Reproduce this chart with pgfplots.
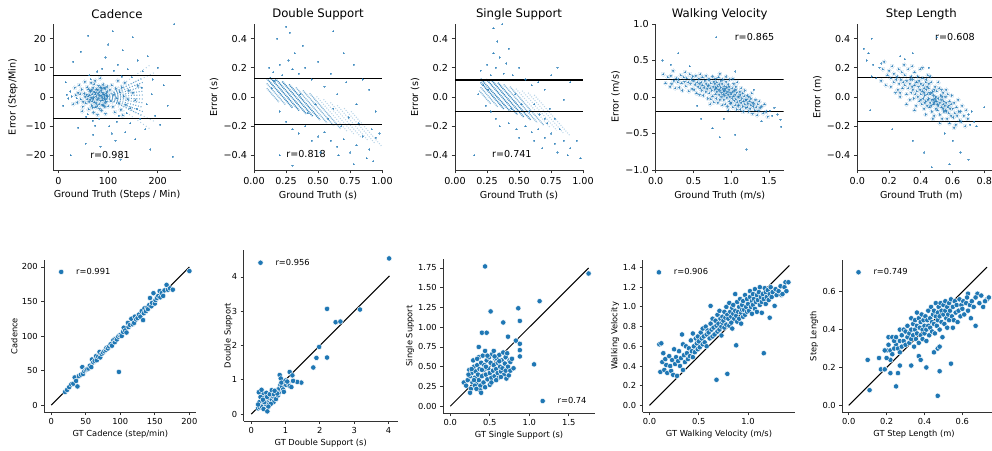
\documentclass[border=0pt]{standalone}
\usepackage{pgfplots}
\usepackage{pgfplotstable}
\pgfplotsset{compat=1.18}
\usepackage{fontspec}
\setmainfont{DejaVu Sans}
\definecolor{tabblue}{HTML}{1F77B4}
\newcommand\fT{\fontsize{11.7}{13}\selectfont}
\newcommand\fA{\fontsize{9.6}{11}\selectfont}
\newcommand\fB{\fontsize{8.3}{9.5}\selectfont}
\pgfplotsset{
  base/.style={scale only axis, axis x line*=bottom, axis y line*=left,
    axis line style={line width=0.8pt, black!80},
    tick style={line width=0.8pt, black!80},
    tick align=outside,
    /pgf/number format/assume math mode=true,
    anchor=south west},
  toprow/.style={base, width=128pt, height=146pt, major tick length=3.5pt,
    tick label style={font=\fA},
    every axis title/.style={at={([yshift=10pt]axis description cs:0.5,1)}, anchor=center, font=\fT},
    every axis x label/.style={at={([yshift=-25pt]axis description cs:0.5,0)}, anchor=center, font=\fA},
    every axis y label/.style={at={([xshift=-40pt]axis description cs:0,0.5)}, anchor=center, rotate=90, font=\fA}},
  cloud/.style={only marks, color=tabblue, mark=*, mark size=0.6pt, mark options={line width=0pt, fill=tabblue, draw=tabblue, opacity=0.4}},
  halo/.style={only marks, color=tabblue, mark=*, mark size=2pt, mark options={line width=0pt, fill=tabblue, draw=none, opacity=0.07}},
  band/.style={black, line width=1.2pt},
  stripe/.style={tabblue, line width=1.3pt, dash pattern=on 1pt off 0.8pt, unbounded coords=jump},
  botrow/.style={base, major tick length=3pt,
    tick label style={font=\fB},
    every axis x label/.style={at={([yshift=-22pt]axis description cs:0.5,0)}, anchor=center, font=\fB},
    every axis y label/.style={at={([xshift=-30pt]axis description cs:0,0.5)}, anchor=center, rotate=90, font=\fB},
    legend style={draw=none, fill=none, inner sep=0pt, font=\fB},
    legend image code/.code={\path[draw=none,fill=none] (0pt,0pt) (18pt,0pt); \draw[mark repeat=2,mark phase=2,##1] plot coordinates {(0pt,0pt)(5pt,0pt)(10pt,0pt)};}},
  scat/.style={only marks, mark=*, mark size=2.7pt, mark options={fill=tabblue, draw=white, line width=0.45pt}},
  diag/.style={black, line width=1pt, forget plot},
}
\pgfplotstableread[row sep=\\]{x y\\
52 1.2\\55 -2.1\\58 3.4\\60 0.3\\61 -4.2\\63 2.2\\64 -1.0\\66 4.8\\67 -2.9\\68 0.9\\70 -0.6\\70 3.1\\71 -5.3\\72 1.8\\73 -1.8\\74 5.6\\75 -3.5\\76 0.2\\77 2.7\\78 -0.9\\79 -6.1\\80 1.1\\81 3.9\\82 -2.4\\83 0.5\\84 6.4\\85 -1.3\\86 2.1\\87 -4.6\\88 -0.2\\89 1.5\\90 4.3\\91 -2.8\\92 0.7\\93 -0.5\\94 2.9\\95 -5.7\\96 1.3\\97 -1.6\\98 3.6\\99 0.1\\100 -3.2\\
45 -0.8\\47 2.6\\49 -3.3\\40 1.5\\42 4.1\\38 -1.9\\35 0.6\\33 3.2\\30 -2.4\\53 5.2\\48 -4.9\\
57 0.8\\62 -1.7\\65 1.9\\69 -3.6\\72 4.4\\76 -2.2\\79 2.4\\83 -4.0\\86 0.4\\89 -1.1\\92 3.1\\95 -0.9\\98 1.9\\66 -0.3\\74 0.9\\81 -0.5\\87 2.9\\93 -3.4\\60 2.7\\68 -1.5\\
54 0.1\\58 -0.8\\63 0.6\\67 2.4\\71 -0.2\\75 1.5\\78 -3.1\\82 1.6\\85 3.3\\88 -2.7\\91 1.0\\94 -1.9\\97 0.5\\50 -1.6\\44 1.0\\
104 2.4\\106 -1.5\\108 4\\110 -3.3\\112 0.8\\114 -5.2\\116 2.9\\118 -0.4\\120 5.5\\122 -2.1\\124 1.7\\126 -4.4\\128 3.4\\130 -6.3\\132 0.3\\134 4.8\\136 -2.7\\140 -0.8\\142 2.2\\145 -3.9\\150 1.4\\155 -1.1\\160 3.8\\
}\tabCadCore
\pgfplotstableread[row sep=\\]{x y\\
27 0.2\\24 1.9\\20 -0.5\\17 0.8\\37 -0.4\\56 -6.8\\62 7.5\\69 -8.2\\78 8.7\\65 6.1\\59 -5.9\\82 -7.4\\88 9.6\\74 -9.8\\
30 12\\45 15.5\\60 21\\70 -13\\85 -17\\95 13.5\\100 18\\110 22.5\\115 -15\\120 11\\125 -21.5\\130 16\\135 -12\\140 9.5\\145 -9\\150 20.5\\155 -14.5\\160 12.5\\165 -7.5\\170 8.8\\175 -11\\180 14\\185 -18\\190 6\\195 -6.5\\200 10\\205 -9.5\\212 4\\220 -3\\230 -20.5\\233 25\\25 -20\\55 -16\\40 -10.5\\15 5\\10 -3\\102 -10\\108 -12.5\\118 -8.5\\128 7\\138 -5.5\\112 9\\122 -6.5\\148 6.8\\158 -4\\168 3.2\\178 -2.5\\188 1\\
}\tabCadOut
\pgfplotstableread[row sep=\\]{x y\\
0.10 0.31\\0.13 0.19\\0.16 0.27\\0.19 0.14\\0.20 0.29\\0.21 0.18\\0.23 0.36\\0.24 0.22\\0.26 0.12\\0.27 0.26\\0.29 0.2\\
0.30 0.24\\0.31 0.13\\0.33 0.3\\0.34 0.19\\0.35 0.09\\0.37 0.27\\0.38 0.21\\0.39 0.34\\
0.40 0.15\\0.41 0.26\\0.43 0.2\\0.44 0.08\\0.45 0.31\\0.46 0.18\\0.47 0.24\\0.48 0.11\\0.49 0.28\\
0.50 0.22\\0.51 0.1\\0.52 0.17\\0.53 0.29\\0.54 0.05\\0.55 0.2\\0.56 0.14\\0.57 0.25\\0.58 0.18\\0.58 0.03\\0.59 0.31\\0.59 0.12\\
0.60 0.2\\0.61 0.09\\0.62 0.16\\0.62 0.27\\0.63 0.02\\0.64 0.13\\0.65 0.22\\0.66 0.07\\0.67 0.18\\0.67 0.29\\0.68 0.11\\0.69 -0.02\\0.69 0.15\\0.695 0.24\\
0.70 0.16\\0.71 0.05\\0.71 0.24\\0.72 0.12\\0.73 -0.03\\0.73 0.19\\0.74 0.09\\0.75 0.28\\0.75 0.01\\0.76 0.14\\0.77 0.21\\0.77 -0.07\\0.78 0.1\\0.78 0.18\\0.79 0.04\\0.79 0.25\\0.795 0.13\\0.72 -0.1\\
0.80 0.12\\0.80 -0.02\\0.81 0.2\\0.81 0.07\\0.82 0.15\\0.82 -0.08\\0.83 0.1\\0.83 0.27\\0.84 0.03\\0.84 0.17\\0.85 -0.04\\0.85 0.09\\0.86 0.22\\0.86 0.13\\0.87 0.0\\0.87 0.06\\0.88 0.18\\0.88 -0.11\\0.89 0.11\\0.89 0.24\\0.895 0.04\\0.85 0.32\\
0.90 0.08\\0.90 -0.04\\0.91 0.15\\0.91 0.02\\0.92 0.11\\0.92 -0.1\\0.93 0.05\\0.93 0.21\\0.94 -0.01\\0.94 0.13\\0.95 0.07\\0.95 -0.13\\0.96 0.17\\0.96 0.03\\0.97 -0.06\\0.97 0.1\\0.98 0.24\\0.98 0.0\\0.99 0.06\\0.99 -0.09\\0.93 0.28\\0.96 -0.18\\0.91 0.09\\0.97 0.14\\
1.00 0.04\\1.00 -0.08\\1.01 0.12\\1.01 -0.02\\1.02 0.07\\1.02 -0.14\\1.03 0.01\\1.03 0.18\\1.04 -0.05\\1.04 0.09\\1.05 -0.11\\1.05 0.03\\1.06 0.14\\1.06 -0.03\\1.07 -0.17\\1.07 0.06\\1.08 -0.07\\1.08 0.2\\1.09 0.0\\1.09 -0.12\\1.02 0.25\\1.06 0.1\\
1.10 0.0\\1.10 -0.11\\1.11 0.07\\1.11 -0.05\\1.12 -0.17\\1.12 0.03\\1.13 -0.08\\1.13 0.12\\1.14 -0.02\\1.15 -0.13\\1.15 0.05\\1.16 -0.06\\1.16 -0.2\\1.17 0.01\\1.18 -0.1\\1.18 0.09\\1.19 -0.04\\1.19 -0.15\\
1.20 -0.04\\1.21 -0.14\\1.21 0.02\\1.22 -0.09\\1.23 -0.2\\1.23 0.0\\1.24 -0.06\\1.25 -0.16\\1.26 -0.02\\1.26 -0.11\\1.27 0.05\\1.28 -0.08\\1.28 -0.23\\1.29 -0.13\\
1.30 -0.09\\1.31 -0.18\\1.32 -0.04\\1.33 -0.14\\1.34 -0.25\\1.35 -0.1\\1.36 -0.19\\1.37 -0.06\\1.38 -0.15\\
1.40 -0.13\\1.42 -0.22\\1.44 -0.1\\1.46 -0.2\\1.48 -0.27\\
}\tabWVCore
\pgfplotstableread[row sep=\\]{x y\\
1.51 -0.19\\1.54 -0.26\\1.57 -0.15\\1.61 -0.24\\1.65 -0.31\\
0.09 0.5\\0.3 0.6\\0.8 0.82\\0.75 -0.43\\0.85 -0.55\\1.05 -0.52\\1.2 -0.72\\1.66 -0.41\\0.55 -0.12\\0.45 0.42\\1.05 0.35\\0.6 -0.3\\1.4 -0.33\\0.2 0.44\\1.3 0.1\\0.9 -0.3\\
}\tabWVOut
\pgfplotstableread[row sep=\\]{x y\\
0.15 0.11\\0.16 0.19\\0.17 0.24\\0.18 0.08\\0.19 0.15\\
0.20 0.18\\0.21 0.07\\0.21 0.13\\0.22 0.21\\0.23 0.1\\0.23 0.16\\0.24 0.03\\0.245 0.12\\
0.25 0.14\\0.255 0.05\\0.26 0.19\\0.265 0.09\\0.27 0.0\\0.275 0.12\\0.28 0.17\\0.285 0.06\\0.29 0.1\\0.295 0.22\\0.27 0.03\\
0.30 0.08\\0.30 0.15\\0.31 0.02\\0.31 0.11\\0.32 0.19\\0.32 0.06\\0.33 -0.02\\0.33 0.09\\0.34 0.14\\0.34 0.03\\0.345 0.21\\0.31 -0.05\\0.335 0.12\\0.345 0.07\\
0.35 0.05\\0.35 0.12\\0.355 -0.01\\0.36 0.08\\0.36 0.17\\0.365 0.02\\0.37 0.1\\0.37 -0.06\\0.375 0.04\\0.38 0.14\\0.38 0.0\\0.385 0.07\\0.39 -0.03\\0.39 0.11\\0.395 0.05\\0.395 0.19\\0.36 -0.09\\0.375 0.1\\
0.40 0.02\\0.40 0.09\\0.405 -0.05\\0.41 0.04\\0.41 0.13\\0.415 -0.01\\0.42 0.06\\0.42 -0.08\\0.425 0.01\\0.43 0.1\\0.43 -0.03\\0.435 0.05\\0.44 -0.06\\0.44 0.02\\0.445 0.15\\0.445 -0.02\\0.41 0.2\\0.43 -0.12\\0.42 0.03\\0.4 -0.02\\0.44 0.07\\0.425 -0.04\\0.435 0.12\\0.415 0.08\\
0.45 -0.01\\0.45 0.06\\0.455 -0.07\\0.46 0.02\\0.46 -0.04\\0.465 0.1\\0.47 -0.02\\0.47 -0.1\\0.475 0.04\\0.48 -0.05\\0.48 0.01\\0.485 -0.13\\0.49 -0.03\\0.49 0.07\\0.495 -0.08\\0.495 0.0\\0.46 0.14\\0.47 0.03\\0.48 -0.02\\0.455 0.03\\0.465 -0.06\\0.485 0.05\\0.49 -0.01\\0.475 -0.15\\0.45 0.09\\0.485 -0.04\\
0.50 -0.03\\0.50 0.04\\0.505 -0.09\\0.51 -0.01\\0.51 -0.06\\0.515 0.06\\0.52 -0.04\\0.52 -0.12\\0.525 0.01\\0.53 -0.07\\0.53 -0.02\\0.535 -0.15\\0.54 -0.05\\0.54 0.03\\0.545 -0.1\\0.545 -0.03\\0.51 0.1\\0.53 0.05\\0.52 -0.18\\0.505 -0.05\\0.54 -0.08\\0.535 0.0\\
0.55 -0.06\\0.555 0.0\\0.56 -0.1\\0.56 -0.04\\0.565 -0.15\\0.57 -0.07\\0.57 0.02\\0.575 -0.11\\0.58 -0.03\\0.58 -0.18\\0.585 -0.08\\0.59 -0.05\\0.59 -0.13\\0.595 0.01\\0.56 0.05\\0.575 -0.06\\0.555 -0.09\\
0.60 -0.08\\0.605 -0.14\\0.61 -0.04\\0.615 -0.11\\0.62 -0.19\\0.625 -0.07\\0.63 -0.13\\0.635 -0.02\\0.64 -0.1\\0.645 -0.16\\0.61 -0.21\\
0.65 -0.1\\0.655 -0.17\\0.66 -0.06\\0.67 -0.13\\0.68 -0.2\\0.685 -0.09\\0.695 -0.15\\
}\tabSLCore
\pgfplotstableread[row sep=\\]{x y\\
0.06 0.25\\0.09 0.14\\0.10 0.22\\0.12 0.13\\0.14 0.2\\0.70 -0.12\\0.71 -0.19\\0.72 -0.1\\0.735 -0.17\\0.75 -0.2\\
0.09 0.4\\0.07 0.3\\0.04 0.33\\0.08 -0.09\\0.15 0.23\\0.27 0.28\\0.35 0.3\\0.5 0.41\\0.6 -0.3\\0.65 -0.38\\0.7 -0.43\\0.35 -0.3\\0.42 -0.38\\0.47 -0.48\\0.58 -0.46\\0.22 -0.22\\0.55 -0.25\\0.3 0.26\\0.45 0.2\\0.8 -0.07\\
}\tabSLOut
\begin{document}
\begin{tikzpicture}
%% ---------------- TOP ROW ----------------
% Cadence
\begin{axis}[toprow, at={(53pt,280pt)}, xmin=-10.7, xmax=246.9, ymin=-25, ymax=25,
  xtick={0,100,200}, ytick={-20,-10,0,10,20}, yticklabels={−20,−10,0,10,20},
  title={Cadence}, xlabel={Ground Truth (Steps / Min)}, ylabel={Error (Step/Min)}]
\addplot[halo] table {\tabCadCore};
\addplot[cloud] table {\tabCadCore};
\addplot[cloud] table {\tabCadOut};
\addplot[stripe, opacity=0.7, line width=1.1pt, dash pattern=on 0.9pt off 1.8pt] coordinates {(92,0)(170,-6.5) (nan,nan) (92,0)(170,-5) (nan,nan) (92,0)(170,-3.5) (nan,nan) (92,0)(170,-2) (nan,nan) (92,0)(170,-0.7) (nan,nan) (92,0)(170,0.7) (nan,nan) (92,0)(170,2) (nan,nan) (92,0)(170,3.5) (nan,nan) (92,0)(170,5) (nan,nan) (92,0)(170,6.5)};
\addplot[stripe, opacity=0.35, line width=1pt, dash pattern=on 0.9pt off 2.5pt] coordinates {(92,0)(195,-8.5) (nan,nan) (92,0)(195,8.5) (nan,nan) (92,0)(185,-11) (nan,nan) (92,0)(185,11)};
\addplot[band] coordinates {(-10.7,7.3)(246.9,7.3)};
\addplot[band] coordinates {(-10.7,-7.5)(246.9,-7.5)};
\node[font=\fA] at (axis cs:104,-19.8) {r=0.981};
\end{axis}
% Double Support
\begin{axis}[toprow, at={(254pt,280pt)}, xmin=0, xmax=1, ymin=-0.5, ymax=0.5,
  xtick={0,0.25,0.5,0.75,1}, xticklabels={0.00,0.25,0.50,0.75,1.00},
  ytick={-0.4,-0.2,0,0.2,0.4}, yticklabels={−0.4,−0.2,0.0,0.2,0.4},
  title={Double Support}, xlabel={Ground Truth (s)}, ylabel={Error (s)}]
\addplot[stripe, opacity=0.85, line width=1.5pt] coordinates {(0.10,0.127)(0.301,-0.074) (nan,nan) (0.125,0.135)(0.355,-0.095) (nan,nan) (0.167,0.126)(0.409,-0.116) (nan,nan) (0.221,0.106)(0.462,-0.135) (nan,nan) (0.274,0.086)(0.516,-0.156)};
\addplot[stripe, opacity=0.55] coordinates {(0.10,0.06)(0.194,-0.034) (nan,nan) (0.10,0.093)(0.247,-0.054) (nan,nan) (0.328,0.065)(0.570,-0.177) (nan,nan) (0.382,0.045)(0.624,-0.197) (nan,nan) (0.435,0.025)(0.677,-0.217)};
\addplot[stripe, opacity=0.3, line width=1.1pt, dash pattern=on 1pt off 1.5pt] coordinates {(0.489,0.004)(0.731,-0.238) (nan,nan) (0.543,-0.016)(0.785,-0.258) (nan,nan) (0.597,-0.037)(0.839,-0.279) (nan,nan) (0.650,-0.057)(0.892,-0.299) (nan,nan) (0.704,-0.077)(0.946,-0.319) (nan,nan) (0.758,-0.098)(1.0,-0.34)};
\addplot[cloud] coordinates {(0.15,0.17)(0.2,0.22)(0.22,0.15)(0.27,0.25)(0.3,0.19)(0.35,0.16)(0.32,0.3)(0.28,0.44)(0.18,0.4)(0.25,0.48)(0.4,0.2)(0.45,0.12)(0.5,0.24)(0.55,0.07)(0.6,0.16)(0.65,0.02)(0.7,0.3)(0.72,0.1)(0.78,0.22)(0.8,-0.05)(0.85,0.12)(0.9,0.05)(0.95,-0.1)(0.62,0.45)(0.38,0.35)(0.12,0.2)(0.14,0.06)(0.16,0.11)
(0.2,-0.1)(0.25,-0.17)(0.3,-0.22)(0.35,-0.25)(0.4,-0.2)(0.45,-0.3)(0.5,-0.27)(0.55,-0.24)(0.6,-0.3)(0.65,-0.34)(0.7,-0.29)(0.75,-0.38)(0.8,-0.33)(0.85,-0.27)(0.9,-0.36)(0.95,-0.28)(0.98,-0.25)(0.88,-0.42)(0.78,-0.46)(0.3,-0.47)(0.2,-0.4)(0.66,-0.4)(0.93,-0.44)(0.52,-0.38)(0.42,-0.11)(0.58,-0.15)(0.68,-0.2)(0.82,-0.18)(0.92,-0.22)(0.74,-0.14)(0.62,-0.08)(0.48,-0.05)(0.36,0.02)};
\addplot[band] coordinates {(0,0.125)(1,0.125)};
\addplot[band] coordinates {(0,-0.19)(1,-0.19)};
\node[font=\fA] at (axis cs:0.407,-0.393) {r=0.818};
\end{axis}
% Single Support
\begin{axis}[toprow, at={(455pt,280pt)}, xmin=0, xmax=1, ymin=-0.5, ymax=0.5,
  xtick={0,0.25,0.5,0.75,1}, xticklabels={0.00,0.25,0.50,0.75,1.00},
  ytick={-0.4,-0.2,0,0.2,0.4}, yticklabels={−0.4,−0.2,0.0,0.2,0.4},
  title={Single Support}, xlabel={Ground Truth (s)}, ylabel={Error (s)}]
\addplot[stripe, opacity=0.85, line width=1.5pt] coordinates {(0.2,0.1)(0.385,-0.085) (nan,nan) (0.2,0.125)(0.436,-0.103) (nan,nan) (0.245,0.122)(0.487,-0.12) (nan,nan) (0.29,0.11)(0.538,-0.138) (nan,nan) (0.335,0.098)(0.59,-0.156)};
\addplot[stripe, opacity=0.55] coordinates {(0.19,0.043)(0.282,-0.049) (nan,nan) (0.2,0.067)(0.333,-0.067) (nan,nan) (0.381,0.086)(0.641,-0.174) (nan,nan) (0.429,0.071)(0.692,-0.192)};
\addplot[stripe, opacity=0.3, line width=1.1pt, dash pattern=on 1pt off 1.5pt] coordinates {(0.476,0.057)(0.744,-0.21) (nan,nan) (0.524,0.043)(0.795,-0.228) (nan,nan) (0.571,0.029)(0.846,-0.246) (nan,nan) (0.619,0.014)(0.897,-0.264)};
\addplot[cloud] coordinates {(0.2,0.18)(0.25,0.22)(0.3,0.3)(0.32,0.2)(0.35,0.27)(0.38,0.16)(0.4,0.23)(0.42,0.33)(0.45,0.15)(0.28,0.15)(0.33,0.38)(0.3,0.47)(0.37,0.5)(0.5,0.2)(0.55,0.12)(0.6,0.08)(0.65,0.1)(0.7,0.05)(0.75,0.15)(0.8,0.2)(0.85,-0.02)(0.9,0.1)(0.22,0.08)(0.18,0.02)(0.24,-0.06)(0.28,-0.1)(0.32,-0.15)(0.35,-0.2)(0.42,-0.18)(0.48,-0.22)(0.5,-0.28)(0.55,-0.2)(0.6,-0.24)(0.62,-0.3)(0.65,-0.22)(0.68,-0.35)(0.7,-0.28)(0.72,-0.18)(0.75,-0.25)(0.78,-0.32)(0.8,-0.38)(0.82,-0.22)(0.85,-0.3)(0.88,-0.4)(0.9,-0.35)(0.95,-0.3)(0.98,-0.42)(0.15,-0.4)(0.44,-0.08)(0.52,-0.05)(0.58,-0.1)(0.62,-0.05)(0.66,-0.12)(0.7,-0.15)(0.74,-0.08)(0.78,-0.15)(0.26,0.05)(0.47,0.02)};
\addplot[band] coordinates {(0,0.117)(1,0.117)};
\addplot[band] coordinates {(0,-0.1)(1,-0.1)};
\node[font=\fA] at (axis cs:0.444,-0.393) {r=0.741};
\end{axis}
% Walking Velocity
\begin{axis}[toprow, at={(655.7pt,280pt)}, xmin=0, xmax=1.693, ymin=-1, ymax=1,
  xtick={0,0.5,1,1.5}, xticklabels={0.0,0.5,1.0,1.5},
  ytick={-1,-0.5,0,0.5,1}, yticklabels={−1.0,−0.5,0.0,0.5,1.0},
  title={Walking Velocity}, xlabel={Ground Truth (m/s)}, ylabel={Error (m/s)}]
\addplot[halo] table {\tabWVCore};
\addplot[cloud] table {\tabWVCore};
\addplot[cloud] table {\tabWVOut};
\addplot[band] coordinates {(0,0.237)(1.693,0.237)};
\addplot[band] coordinates {(0,-0.2)(1.693,-0.2)};
\node[font=\fA] at (axis cs:1.307,0.827) {r=0.865};
\end{axis}
% Step Length
\begin{axis}[toprow, width=135pt, at={(857.3pt,280pt)}, xmin=0, xmax=0.85, ymin=-0.5, ymax=0.5,
  xtick={0,0.2,0.4,0.6,0.8}, xticklabels={0.0,0.2,0.4,0.6,0.8},
  ytick={-0.4,-0.2,0,0.2,0.4}, yticklabels={−0.4,−0.2,0.0,0.2,0.4},
  title={Step Length}, xlabel={Ground Truth (m)}, ylabel={Error (m)},
  every axis title/.append style={at={([yshift=10pt,xshift=-3.5pt]axis description cs:0.5,1)}},
  every axis x label/.append style={at={([yshift=-25pt,xshift=-3.5pt]axis description cs:0.5,0)}}]
\addplot[halo] table {\tabSLCore};
\addplot[cloud] table {\tabSLCore};
\addplot[cloud] table {\tabSLOut};
\addplot[band] coordinates {(0,0.135)(0.85,0.135)};
\addplot[band] coordinates {(0,-0.167)(0.85,-0.167)};
\node[font=\fA] at (axis cs:0.615,0.41) {r=0.608};
\end{axis}
%% ---------------- BOTTOM ROW ----------------
% Cadence
\begin{axis}[botrow, at={(44.3pt,38pt)}, width=152pt, height=152pt, xmin=-10, xmax=210, ymin=-10, ymax=210,
  xtick={0,50,100,150,200}, ytick={0,50,100,150,200},
  xlabel={GT Cadence (step/min)}, ylabel={Cadence},
  ylabel style={at={([xshift=-30pt]axis description cs:0,0.5)}},
  legend style={at={(axis description cs:0,1)}, anchor=west, xshift=11.7pt, yshift=-11.9pt}]
\addplot[scat] coordinates {(20,19)(23,22)(26,26)(29,30)(32,31)(34,40)(36,35)(38,27)(40,42)(43,44)(45,55)(46,45)(48,49)(50,51)(52,52)(54,53)(56,57)(58,55)(59,66)(61,62)(63,64)(65,71)(66,65)(68,70)(70,77)(71,69)(73,74)(75,76)(77,78)(79,80)(80,83)(82,82)(84,85)(86,88)(88,86)(90,94)(92,91)(93,96)(95,95)(97,99)(98,48)(99,101)(101,102)(102,100)(104,106)(105,112)(107,108)(109,105)(111,119)(112,113)(114,116)(116,125)(118,117)(120,119)(121,128)(123,124)(125,126)(127,131)(129,128)(131,136)(133,123)(134,133)(135,140)(137,136)(139,141)(140,139)(142,145)(143,155)(145,143)(146,148)(148,162)(150,147)(151,152)(153,155)(155,158)(157,165)(158,156)(160,162)(162,158)(164,166)(167,174)(169,167)(172,169)(176,167)(200,194)};
\addlegendentry{r=0.991}
\addplot[diag] coordinates {(0,0)(200,200)};
\end{axis}
% Double Support
\begin{axis}[botrow, at={(243.7pt,29pt)}, width=154pt, height=170.8pt, xmin=-0.22, xmax=4.27, ymin=-0.2, ymax=4.78,
  xtick={0,1,2,3,4}, ytick={0,1,2,3,4},
  xlabel={GT Double Support (s)}, ylabel={Double Support},
  ylabel style={at={([xshift=-15.4pt]axis description cs:0,0.5)}},
  legend style={at={(axis description cs:0,1)}, anchor=west, xshift=11.6pt, yshift=-12.5pt}]
\addplot[scat] coordinates {(0.2,0.17)(0.25,0.2)(0.28,0.3)(0.32,0.38)(0.35,0.25)(0.38,0.45)(0.4,0.33)(0.42,0.55)(0.45,0.4)(0.48,0.28)(0.5,0.5)(0.52,0.36)(0.55,0.45)(0.58,0.6)(0.6,0.42)(0.62,0.52)(0.65,0.35)(0.68,0.48)(0.7,0.58)(0.72,0.44)(0.75,0.7)(0.78,0.55)(0.8,0.62)(0.82,0.75)(0.85,0.85)(0.9,0.8)(0.93,0.72)(0.97,0.88)(1.02,0.85)(1.08,0.9)(0.3,0.45)(0.33,0.52)(0.36,0.6)(0.4,0.48)(0.44,0.62)(0.27,0.5)(0.31,0.22)(0.36,0.15)(0.42,0.3)(0.46,0.5)(0.54,0.58)(0.57,0.3)(0.24,0.35)(0.38,0.35)(0.5,0.22)(0.6,0.7)(0.66,0.58)(0.2,0.28)(0.34,0.42)
(4.02,4.54)(3.17,3.05)(2.21,3.07)(2.46,2.68)(2.6,2.7)(1.98,1.96)(1.9,1.64)(2.21,1.65)(1.81,1.36)(1.46,0.92)(1.34,0.94)(1.12,1.23)(1.2,1.13)(1.22,0.97)(1.12,0.82)(1.17,0.79)(0.83,1.14)(0.86,1.04)(0.88,0.92)(0.95,0.65)(1.0,0.98)(1.05,0.95)(0.76,0.6)(0.68,0.68)(0.47,0.08)(0.22,0.64)(0.3,0.71)};
\addlegendentry{r=0.956}
\addplot[diag] coordinates {(0,0)(4.03,4.03)};
\end{axis}
% Single Support
\begin{axis}[botrow, at={(443.2pt,36.7pt)}, width=151.7pt, height=154.8pt, xmin=-0.09, xmax=1.83, ymin=-0.09, ymax=1.87,
  xtick={0,0.5,1,1.5}, xticklabels={0.0,0.5,1.0,1.5},
  ytick={0,0.25,0.5,0.75,1,1.25,1.5,1.75}, yticklabels={0.00,0.25,0.50,0.75,1.00,1.25,1.50,1.75},
  xlabel={GT Single Support (s)}, ylabel={Single Support},
  ylabel style={at={([xshift=-33pt]axis description cs:0,0.5)}},
  legend style={at={(axis description cs:1,0)}, anchor=east, xshift=-6.2pt, yshift=12.3pt}]
\addplot[scat] coordinates {(0.17,0.3)(0.2,0.26)(0.22,0.33)(0.24,0.46)(0.25,0.38)(0.27,0.42)(0.28,0.3)(0.29,0.58)(0.3,0.5)(0.31,0.36)(0.32,0.44)(0.33,0.28)(0.34,0.52)(0.35,0.4)(0.36,0.62)(0.36,0.33)(0.37,0.47)(0.38,0.26)(0.39,0.55)(0.4,0.38)(0.41,0.64)(0.42,0.46)(0.42,0.3)(0.43,0.52)(0.44,0.7)(0.45,0.4)(0.46,0.58)(0.47,0.34)(0.48,0.48)(0.49,0.62)(0.5,0.42)(0.5,0.27)(0.51,0.55)(0.52,0.36)(0.53,0.66)(0.54,0.45)(0.55,0.7)(0.55,0.52)(0.56,0.38)(0.57,0.6)(0.58,0.47)(0.59,0.6)(0.6,0.42)(0.6,0.55)(0.61,0.36)(0.62,0.65)(0.63,0.5)(0.64,0.44)(0.65,0.58)(0.66,0.48)(0.67,0.68)(0.68,0.4)(0.69,0.54)(0.7,0.62)(0.7,0.45)(0.71,0.35)(0.72,0.67)(0.73,0.5)(0.74,0.39)(0.75,0.58)(0.76,0.45)(0.76,0.56)(0.78,0.6)(0.8,0.48)(0.3,0.33)(0.26,0.22)(0.44,0.24)(0.52,0.3)(0.58,0.33)(0.64,0.37)(0.4,0.46)(0.34,0.6)(0.47,0.64)(0.23,0.4)(0.38,0.2)(0.45,0.5)(0.27,0.47)(0.31,0.26)(0.56,0.63)(0.62,0.57)
(0.44,1.77)(1.75,1.68)(1.13,1.33)(0.51,1.2)(0.86,1.24)(0.67,1.06)(0.88,1.08)(0.4,0.93)(0.46,0.93)(0.73,0.88)(0.83,0.83)(0.88,0.79)(0.88,0.71)(0.88,0.63)(1.06,0.53)(0.36,0.75)(0.25,0.17)(0.39,0.17)(0.33,0.22)};
\addlegendentry{r=0.74}
\addplot[diag] coordinates {(0,0)(1.75,1.75)};
\end{axis}
% Walking Velocity
\begin{axis}[botrow, at={(642.6pt,37.7pt)}, width=152.7pt, height=152.7pt, xmin=-0.07, xmax=1.48, ymin=-0.07, ymax=1.48,
  xtick={0,0.5,1}, xticklabels={0.0,0.5,1.0},
  ytick={0,0.2,0.4,0.6,0.8,1,1.2,1.4}, yticklabels={0.0,0.2,0.4,0.6,0.8,1.0,1.2,1.4},
  xlabel={GT Walking Velocity (m/s)}, ylabel={Walking Velocity},
  ylabel style={at={([xshift=-27.6pt]axis description cs:0,0.5)}},
  legend style={at={(axis description cs:0,1)}, anchor=west, xshift=11.1pt, yshift=-12.7pt}]
\addplot[scat] coordinates {(0.1,0.62)(0.11,0.34)(0.12,0.63)(0.13,0.44)(0.14,0.53)(0.15,0.36)(0.16,0.47)(0.17,0.41)(0.18,0.33)(0.2,0.5)(0.21,0.4)(0.22,0.35)(0.23,0.46)(0.24,0.31)(0.25,0.57)(0.26,0.42)(0.27,0.49)(0.28,0.3)(0.29,0.45)(0.3,0.55)(0.31,0.4)(0.32,0.48)(0.33,0.72)(0.34,0.62)(0.34,0.36)(0.35,0.51)(0.36,0.44)(0.37,0.6)(0.38,0.53)(0.39,0.47)(0.4,0.58)(0.41,0.5)(0.42,0.66)(0.43,0.55)(0.44,0.49)(0.44,0.73)(0.45,0.6)(0.46,0.54)(0.47,0.68)(0.48,0.63)(0.49,0.57)(0.49,0.7)(0.5,0.65)(0.51,0.59)(0.52,0.74)(0.53,0.68)(0.54,0.62)(0.54,0.78)(0.55,0.7)(0.56,0.64)(0.57,0.8)(0.58,0.72)(0.58,0.6)(0.59,0.76)
(0.6,0.74)(0.61,0.68)(0.62,1.01)(0.62,0.83)(0.63,0.77)(0.64,0.7)(0.64,0.88)(0.65,0.79)(0.66,0.72)(0.67,0.86)(0.68,0.26)(0.68,0.81)(0.69,0.75)(0.69,0.92)(0.7,0.83)(0.71,0.96)(0.71,0.77)(0.72,0.88)(0.73,0.8)(0.73,0.71)(0.74,0.9)(0.74,0.84)(0.75,0.86)(0.76,0.79)(0.76,0.95)(0.77,0.89)(0.78,0.82)(0.78,1.0)(0.79,0.32)(0.79,0.92)
(0.8,0.88)(0.81,1.04)(0.81,0.81)(0.82,0.95)(0.83,0.9)(0.83,0.84)(0.84,0.99)(0.84,0.78)(0.85,0.93)(0.85,1.02)(0.86,0.88)(0.87,1.13)(0.87,0.96)(0.88,0.61)(0.88,0.91)(0.89,1.05)(0.89,0.85)(0.9,0.95)(0.91,1.0)(0.91,0.88)(0.92,1.08)(0.93,0.94)(0.93,0.83)(0.94,1.02)(0.94,0.97)(0.95,0.9)(0.95,1.06)(0.96,0.97)(0.97,1.12)(0.97,0.92)(0.98,1.0)(0.99,1.08)(0.99,0.95)
(1.0,1.03)(1.01,0.96)(1.02,1.1)(1.02,1.16)(1.03,1.0)(1.04,1.06)(1.04,0.93)(1.05,1.13)(1.05,1.02)(1.06,1.08)(1.07,1.18)(1.07,0.98)(1.08,1.05)(1.09,1.12)(1.09,0.95)(1.1,1.07)(1.11,1.15)(1.12,1.02)(1.12,1.2)(1.13,1.1)(1.14,0.94)(1.14,1.05)(1.16,0.53)(1.15,1.13)(1.16,1.08)(1.17,1.19)(1.18,1.03)(1.18,1.15)(1.19,1.1)
(1.2,1.17)(1.21,1.07)(1.22,0.89)(1.22,1.13)(1.23,1.2)(1.24,1.1)(1.25,1.15)(1.27,1.01)(1.28,1.18)(1.29,1.12)(1.31,1.16)(1.33,1.21)(1.34,1.12)(1.35,1.13)(1.37,1.2)(1.38,1.25)(1.41,1.25)(1.39,1.16)};
\addlegendentry{r=0.906}
\addplot[diag] coordinates {(0,0)(1.42,1.42)};
\end{axis}
% Step Length
\begin{axis}[botrow, at={(842.3pt,37.7pt)}, width=156pt, height=152.7pt, xmin=-0.034, xmax=0.79, ymin=-0.037, ymax=0.77,
  xtick={0,0.2,0.4,0.6}, xticklabels={0.0,0.2,0.4,0.6},
  ytick={0,0.2,0.4,0.6}, yticklabels={0.0,0.2,0.4,0.6},
  xlabel={GT Step Length (m)}, ylabel={Step Length},
  every axis x label/.append style={at={([yshift=-22pt]axis description cs:0.46,0)}},
  ylabel style={at={([xshift=-28.3pt]axis description cs:0,0.5)}},
  legend style={at={(axis description cs:0,1)}, anchor=west, xshift=11pt, yshift=-12.7pt}]
\addplot[scat] coordinates {(0.1,0.24)(0.11,0.08)(0.16,0.25)(0.17,0.19)(0.19,0.19)(0.2,0.29)(0.21,0.36)(0.23,0.36)(0.22,0.17)(0.25,0.1)(0.26,0.17)(0.27,0.4)(0.27,0.21)(0.33,0.21)(0.37,0.26)(0.38,0.24)(0.41,0.2)(0.47,0.3)(0.48,0.31)(0.45,0.28)(0.48,0.18)(0.47,0.05)(0.54,0.22)(0.55,0.41)(0.67,0.42)(0.63,0.59)(0.68,0.59)(0.73,0.56)(0.71,0.52)(0.36,0.49)(0.33,0.46)(0.19,0.29)(0.22,0.24)(0.25,0.32)
(0.2,0.25)(0.21,0.32)(0.22,0.29)(0.23,0.27)(0.24,0.34)(0.24,0.3)(0.25,0.36)(0.26,0.3)(0.27,0.34)(0.27,0.28)(0.28,0.37)(0.28,0.31)(0.29,0.4)(0.29,0.34)
(0.3,0.32)(0.3,0.39)(0.31,0.36)(0.31,0.42)(0.32,0.33)(0.32,0.38)(0.33,0.4)(0.33,0.35)(0.34,0.43)(0.34,0.37)(0.345,0.31)
(0.35,0.4)(0.35,0.45)(0.355,0.35)(0.36,0.42)(0.36,0.38)(0.37,0.46)(0.37,0.33)(0.375,0.41)(0.38,0.44)(0.38,0.37)(0.385,0.48)(0.39,0.4)(0.39,0.35)(0.395,0.45)
(0.4,0.42)(0.4,0.38)(0.405,0.47)(0.41,0.4)(0.41,0.34)(0.415,0.45)(0.42,0.5)(0.42,0.42)(0.425,0.37)(0.43,0.46)(0.43,0.41)(0.435,0.52)(0.44,0.44)(0.44,0.39)(0.445,0.48)
(0.45,0.43)(0.45,0.5)(0.455,0.38)(0.46,0.47)(0.46,0.54)(0.465,0.42)(0.47,0.49)(0.47,0.45)(0.475,0.52)(0.48,0.4)(0.48,0.47)(0.485,0.54)(0.49,0.44)(0.49,0.5)(0.495,0.36)
(0.5,0.48)(0.5,0.53)(0.505,0.43)(0.51,0.5)(0.51,0.55)(0.515,0.46)(0.52,0.52)(0.52,0.41)(0.525,0.48)(0.53,0.54)(0.53,0.45)(0.535,0.5)(0.54,0.56)(0.545,0.47)
(0.55,0.52)(0.555,0.45)(0.56,0.55)(0.565,0.49)(0.57,0.53)(0.575,0.44)(0.58,0.5)(0.585,0.56)(0.59,0.47)(0.595,0.53)
(0.6,0.51)(0.605,0.55)(0.61,0.48)(0.62,0.54)(0.625,0.57)(0.63,0.5)(0.64,0.53)(0.645,0.46)(0.65,0.55)(0.66,0.52)(0.67,0.57)(0.69,0.54)(0.7,0.58)(0.72,0.55)(0.74,0.57)};
\addlegendentry{r=0.749}
\addplot[diag] coordinates {(0,0)(0.73,0.73)};
\end{axis}
\pgfresetboundingbox
\path[use as bounding box] (0,0) rectangle (992pt,450pt);
\end{tikzpicture}
\end{document}
